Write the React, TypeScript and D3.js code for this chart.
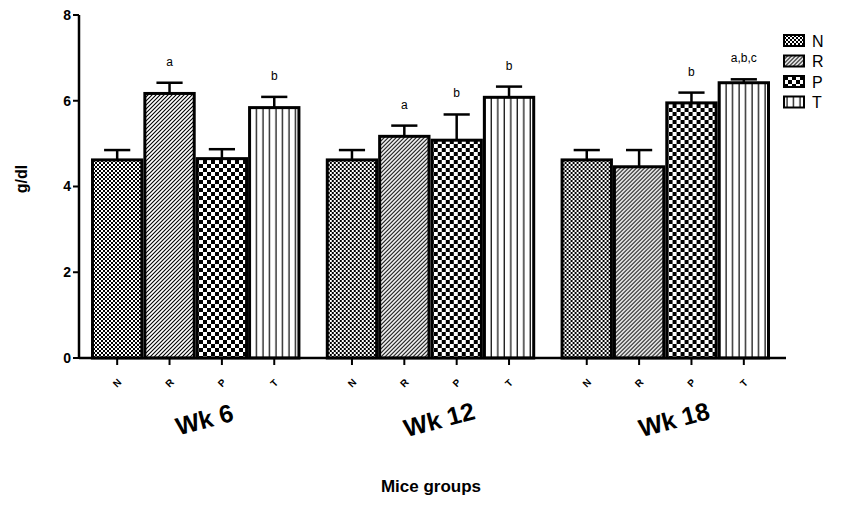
import * as d3 from 'd3';

const groups = ['Wk 6', 'Wk 12', 'Wk 18'];
const treatments = ['N', 'R', 'P', 'T'];
// mean values per group, in treatment order N, R, P, T
const means = [
  [4.62, 6.17, 4.65, 5.84],
  [4.62, 5.17, 5.08, 6.08],
  [4.62, 4.46, 5.95, 6.42],
];
const errors = [
  [0.23, 0.25, 0.22, 0.25],
  [0.23, 0.25, 0.6, 0.25],
  [0.23, 0.39, 0.24, 0.08],
];
const letters = [
  ['', 'a', '', 'b'],
  ['', 'a', 'b', 'b'],
  ['', '', 'b', 'a,b,c'],
];
const yTicks = [0, 2, 4, 6, 8];

const W = 861;
const H = 516;
const axisLeft = 79;
const axisRight = 786;
const font = '"Liberation Sans", Arial, Helvetica, sans-serif';

const App = () => {
  const y = d3.scaleLinear().domain([0, 8]).range([358, 15]);
  const x0 = d3.scaleBand().domain(groups).range([91, 770]).paddingInner(0.108).paddingOuter(0);
  const x1 = d3.scaleBand().domain(treatments).range([0, x0.bandwidth()]);
  const bw = x1.bandwidth();

  const fillFor = (t: string) => `url(#pat-${t})`;

  return (
    <svg width={W} height={H} style={{ display: 'block', position: 'absolute', left: 0, top: 0 }}>
      <defs>
        <pattern id="pat-N" width="4" height="4" patternUnits="userSpaceOnUse">
          <rect width="4" height="4" fill="#000" />
          <rect x="0" y="0" width="2" height="2" fill="#fff" />
          <rect x="2" y="2" width="2" height="2" fill="#fff" />
        </pattern>
        <pattern id="pat-R" width="4" height="4" patternUnits="userSpaceOnUse">
          <rect width="4" height="4" fill="#fff" />
          <path d="M-1,5 L5,-1 M-1,1 L1,-1 M3,5 L5,3" stroke="#000" strokeWidth="1.1" />
        </pattern>
        <pattern id="pat-P" width="8" height="8" patternUnits="userSpaceOnUse">
          <rect width="8" height="8" fill="#fff" />
          <rect x="0" y="0" width="4" height="4" fill="#000" />
          <rect x="4" y="4" width="4" height="4" fill="#000" />
        </pattern>
        <pattern id="pat-T" width="6.5" height="10" patternUnits="userSpaceOnUse">
          <rect width="6.5" height="10" fill="#fff" />
          <line x1="3" y1="0" x2="3" y2="10" stroke="#000" strokeWidth="1.2" />
        </pattern>
      </defs>

      {/* bars */}
      {groups.map((g, gi) => (
        <g key={g} transform={`translate(${x0(g)},0)`}>
          {treatments.map((t, ti) => {
            const v = means[gi][ti];
            const e = errors[gi][ti];
            const bx = x1(t) as number;
            const cx = bx + bw / 2;
            return (
              <g key={t}>
                <line x1={cx} x2={cx} y1={y(v)} y2={y(v + e)} stroke="#000" strokeWidth={2.5} />
                <line x1={cx - bw / 4} x2={cx + bw / 4} y1={y(v + e)} y2={y(v + e)} stroke="#000" strokeWidth={2.5} />
                <rect
                  x={bx + 1.5}
                  y={y(v)}
                  width={bw - 3}
                  height={y(0) - y(v)}
                  fill={fillFor(t)}
                  stroke="#000"
                  strokeWidth={3}
                />
                {letters[gi][ti] && (
                  <text
                    x={cx}
                    y={y(v + e) - 17}
                    textAnchor="middle"
                    fontFamily={font}
                    fontSize={12}
                  >
                    {letters[gi][ti]}
                  </text>
                )}
                {/* x tick */}
                <line x1={cx} x2={cx} y1={y(0)} y2={y(0) + 7} stroke="#000" strokeWidth={2} />
                <text
                  transform={`translate(${cx},${y(0) + 25}) rotate(-45)`}
                  textAnchor="middle"
                  dy="0.35em"
                  fontFamily={font}
                  fontWeight="bold"
                  fontSize={10}
                >
                  {t}
                </text>
              </g>
            );
          })}
          <text
            transform={`translate(${x0.bandwidth() / 2 + 11},${428}) rotate(-15)`}
            textAnchor="middle"
            fontFamily={font}
            fontWeight="bold"
            fontSize={25}
          >
            {g}
          </text>
        </g>
      ))}

      {/* x axis */}
      <line x1={axisLeft} x2={axisRight} y1={y(0)} y2={y(0)} stroke="#000" strokeWidth={2.5} />

      {/* y axis */}
      <line x1={axisLeft} x2={axisLeft} y1={y(8)} y2={y(0)} stroke="#000" strokeWidth={2.5} />
      {yTicks.map((t) => (
        <g key={t}>
          <line x1={axisLeft - 6} x2={axisLeft} y1={y(t)} y2={y(t)} stroke="#000" strokeWidth={2} />
          <text
            x={axisLeft - 8}
            y={y(t)}
            dy="0.35em"
            textAnchor="end"
            fontFamily={font}
            fontWeight="bold"
            fontSize={14}
          >
            {t}
          </text>
        </g>
      ))}

      <text
        transform={`translate(27,179) rotate(-90)`}
        textAnchor="middle"
        fontFamily={font}
        fontWeight="bold"
        fontSize={16}
      >
        g/dl
      </text>

      <text x={431} y={492} textAnchor="middle" fontFamily={font} fontWeight="bold" fontSize={17}>
        Mice groups
      </text>

      {/* legend */}
      {treatments.map((t, i) => (
        <g key={t} transform={`translate(784,${35 + i * 20.5})`}>
          <rect x={0} y={0} width={20} height={11} fill={fillFor(t)} stroke="#000" strokeWidth={2} />
          <text x={28} y={6} dy="0.35em" fontFamily={font} fontSize={16}>
            {t}
          </text>
        </g>
      ))}
    </svg>
  );
};

export default App;
